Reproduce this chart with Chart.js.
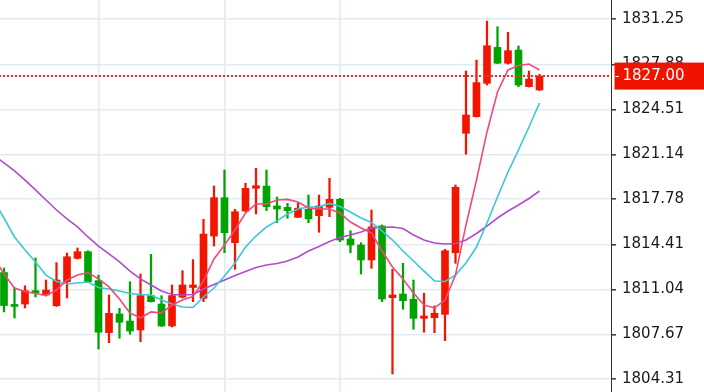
<!DOCTYPE html>
<html>
<head>
<meta charset="utf-8">
<script src="https://cdn.jsdelivr.net/npm/chart.js@4/dist/chart.umd.min.js"></script>
<style>
  html, body { margin: 0; padding: 0; background: #ffffff; }
  #wrap { width: 704px; height: 392px; }
</style>
</head>
<body>
<div id="wrap"><canvas id="c" width="704" height="392"></canvas></div>
<script>
// ---- data ----
const candleOpen = [1812.30, 1809.83, 1809.94, 1810.92, 1810.62, 1809.82, 1811.61, 1813.36, 1813.86, 1811.69, 1807.80, 1809.20, 1808.67, 1808.00, 1810.57, 1809.94, 1808.30, 1810.45, 1811.18, 1810.37, 1815.03, 1817.90, 1814.53, 1816.90, 1818.60, 1818.77, 1817.28, 1817.18, 1816.43, 1817.03, 1816.55, 1817.18, 1817.78, 1814.81, 1814.36, 1813.24, 1815.78, 1810.42, 1810.69, 1810.30, 1808.87, 1808.92, 1809.17, 1813.78, 1822.72, 1823.96, 1826.46, 1829.15, 1827.96, 1828.95, 1826.21, 1825.96];
const candleHigh = [1812.64, 1811.14, 1811.31, 1813.39, 1811.74, 1813.04, 1813.76, 1814.14, 1813.93, 1812.11, 1810.62, 1809.62, 1811.61, 1812.19, 1813.66, 1810.57, 1811.37, 1812.44, 1813.27, 1816.28, 1818.77, 1819.97, 1817.03, 1818.98, 1820.10, 1819.97, 1817.95, 1817.48, 1817.50, 1818.10, 1818.10, 1819.35, 1817.85, 1815.43, 1814.53, 1816.98, 1815.86, 1812.54, 1812.99, 1811.74, 1810.75, 1809.80, 1814.04, 1818.85, 1827.38, 1828.20, 1831.12, 1830.70, 1830.28, 1829.25, 1827.38, 1827.13];
const candleLow = [1809.35, 1808.90, 1809.65, 1810.47, 1810.54, 1809.76, 1810.39, 1813.31, 1811.55, 1806.58, 1807.05, 1807.38, 1807.68, 1807.12, 1810.09, 1808.26, 1808.22, 1810.39, 1810.12, 1810.12, 1814.28, 1813.78, 1812.54, 1816.87, 1816.68, 1816.93, 1816.03, 1816.36, 1816.42, 1816.03, 1815.31, 1816.48, 1814.61, 1813.78, 1812.19, 1812.62, 1810.12, 1804.71, 1809.55, 1808.05, 1807.83, 1807.80, 1807.20, 1812.99, 1821.15, 1823.94, 1826.33, 1827.94, 1827.90, 1826.21, 1826.18, 1825.92];
const candleClose = [1809.83, 1809.76, 1810.94, 1810.79, 1810.99, 1811.74, 1813.48, 1813.86, 1811.61, 1807.83, 1809.25, 1808.58, 1807.92, 1810.57, 1810.12, 1808.30, 1810.57, 1811.37, 1811.37, 1815.18, 1817.90, 1815.28, 1816.85, 1818.60, 1818.80, 1817.23, 1817.05, 1816.93, 1817.11, 1816.31, 1817.28, 1817.78, 1814.73, 1814.36, 1813.24, 1815.71, 1810.32, 1810.62, 1810.19, 1808.87, 1809.05, 1809.25, 1813.93, 1818.68, 1824.09, 1826.51, 1829.27, 1827.96, 1828.90, 1826.33, 1826.78, 1827.00];

// moving averages, first value belongs to the bar just left of the first candle
const maFast = [1813.46, 1812.19, 1811.14, 1810.88, 1810.73, 1810.58, 1810.99, 1811.74, 1812.11, 1812.30, 1811.82, 1811.22, 1810.32, 1809.27, 1808.90, 1809.35, 1809.27, 1809.87, 1810.24, 1810.51, 1811.67, 1813.31, 1814.36, 1815.48, 1816.75, 1817.43, 1817.43, 1817.73, 1817.77, 1817.58, 1817.13, 1817.05, 1817.05, 1816.75, 1816.08, 1815.63, 1815.26, 1813.91, 1812.71, 1811.82, 1810.77, 1809.87, 1809.65, 1810.24, 1812.11, 1815.86, 1819.22, 1822.82, 1825.81, 1827.46, 1827.79, 1827.90, 1827.46];
const maMid = [1817.73, 1816.38, 1814.96, 1813.99, 1813.09, 1812.11, 1811.63, 1811.44, 1811.52, 1811.59, 1811.18, 1811.07, 1810.92, 1810.73, 1810.66, 1810.62, 1810.24, 1809.94, 1809.72, 1809.68, 1810.47, 1811.14, 1812.04, 1813.01, 1814.21, 1815.03, 1815.71, 1816.16, 1816.68, 1817.05, 1817.20, 1817.20, 1817.47, 1817.24, 1816.83, 1816.38, 1816.04, 1815.41, 1814.73, 1813.91, 1813.16, 1812.41, 1811.67, 1811.63, 1812.11, 1813.01, 1814.21, 1816.01, 1817.95, 1819.82, 1821.47, 1823.19, 1824.99];
const maSlow = [1821.09, 1820.50, 1819.90, 1819.22, 1818.48, 1817.73, 1816.98, 1816.31, 1815.71, 1814.96, 1814.28, 1813.69, 1813.09, 1812.41, 1811.82, 1811.37, 1810.92, 1810.66, 1810.62, 1810.66, 1811.07, 1811.40, 1811.74, 1812.08, 1812.38, 1812.68, 1812.86, 1812.98, 1813.16, 1813.46, 1813.91, 1814.25, 1814.62, 1814.92, 1815.11, 1815.33, 1815.63, 1815.67, 1815.71, 1815.59, 1815.11, 1814.73, 1814.51, 1814.43, 1814.47, 1814.73, 1815.22, 1815.78, 1816.38, 1816.90, 1817.35, 1817.84, 1818.40];

const yTickValues = [1804.31, 1807.67, 1811.04, 1814.41, 1817.78, 1821.14, 1824.51, 1827.88, 1831.25];
const yTickLabels = ['1804.31', '1807.67', '1811.04', '1814.41', '1817.78', '1821.14', '1824.51', '1827.88', '1831.25'];
const xGridBars = [9, 21, 32];

// ---- build ----
const UP = '#f21600', DOWN = '#00a300';
const n = candleClose.length;
const lastPrice = candleClose[n - 1];
const colors = candleClose.map((c, i) => c >= candleOpen[i] ? UP : DOWN);
const wickData = candleHigh.map((h, i) => ({ x: i, y: [candleLow[i], h] }));
const bodyData = candleOpen.map((o, i) => ({ x: i, y: [o, candleClose[i]] }));
const maPts = arr => arr.map((v, i) => ({ x: i - 1, y: v }));

Chart.defaults.font.family = '"DejaVu Sans", Verdana, sans-serif';

const priceTag = {
  id: 'priceTag',
  afterDraw(chart) {
    const { ctx } = chart;
    const ys = chart.scales.y;
    const py = ys.getPixelForValue(lastPrice);
    const left = ys.left + 3.5;
    ctx.save();
    ctx.fillStyle = '#f01400';
    ctx.fillRect(left, py - 13.5, chart.width - left, 27);
    ctx.strokeStyle = '#ffffff';
    ctx.lineWidth = 1;
    ctx.beginPath();
    ctx.moveTo(left + 1, Math.round(py) + 0.5);
    ctx.lineTo(left + 4.5, Math.round(py) + 0.5);
    ctx.stroke();
    ctx.fillStyle = '#ffffff';
    ctx.font = '15px "DejaVu Sans", Verdana, sans-serif';
    ctx.textBaseline = 'middle';
    ctx.textAlign = 'left';
    ctx.fillText(lastPrice.toFixed(2), ys.left + 11.5, py + 0.5);
    ctx.restore();
  }
};

new Chart(document.getElementById('c'), {
  type: 'bar',
  data: {
    datasets: [
      { type: 'line', data: [{ x: -2, y: lastPrice }, { x: 70, y: lastPrice }], borderColor: '#f52a2a', borderWidth: 2, borderDash: [2, 2], pointRadius: 0, order: 0 },
      { type: 'line', data: maPts(maFast), borderColor: '#ee4a7c', borderWidth: 1.6, pointRadius: 0, tension: 0, order: 1 },
      { type: 'line', data: maPts(maMid), borderColor: '#3cc6d8', borderWidth: 1.6, pointRadius: 0, tension: 0, order: 2 },
      { type: 'line', data: maPts(maSlow), borderColor: '#b04ccc', borderWidth: 1.6, pointRadius: 0, tension: 0, order: 3 },
      { type: 'bar', data: bodyData, backgroundColor: colors, barThickness: 7, minBarLength: 2, grouped: false, borderWidth: 0, order: 4 },
      { type: 'bar', data: wickData, backgroundColor: colors, barThickness: 1.6, grouped: false, borderWidth: 0, order: 5 }
    ]
  },
  options: {
    responsive: false,
    animation: false,
    events: [],
    layout: { padding: 0 },
    plugins: { legend: { display: false }, tooltip: { enabled: false } },
    scales: {
      x: {
        type: 'linear',
        min: -0.381,
        max: 57.81,
        offset: false,
        afterBuildTicks: s => { s.ticks = xGridBars.map(v => ({ value: v })); },
        afterFit: s => { s.height = 0; s.paddingLeft = 0; s.paddingRight = 0; },
        ticks: { display: false },
        border: { display: false },
        grid: { offset: false, drawTicks: false, color: '#e3ebf2', lineWidth: 1.6 }
      },
      y: {
        type: 'linear',
        position: 'right',
        min: 1803.359,
        max: 1832.694,
        afterBuildTicks: s => { s.ticks = yTickValues.map(v => ({ value: v })); },
        afterFit: s => { s.width = 93; s.paddingTop = 0; s.paddingBottom = 0; },
        border: { display: true, color: '#333333', width: 1 },
        grid: { color: '#e3ebf2', lineWidth: 1.6, tickColor: '#444444', tickLength: 5, drawTicks: true },
        ticks: {
          autoSkip: false,
          padding: 6,
          color: '#1a1a1a',
          font: { size: 15 },
          callback: (v, i) => yTickLabels[i]
        }
      }
    }
  },
  plugins: [priceTag]
});
</script>
</body>
</html>
